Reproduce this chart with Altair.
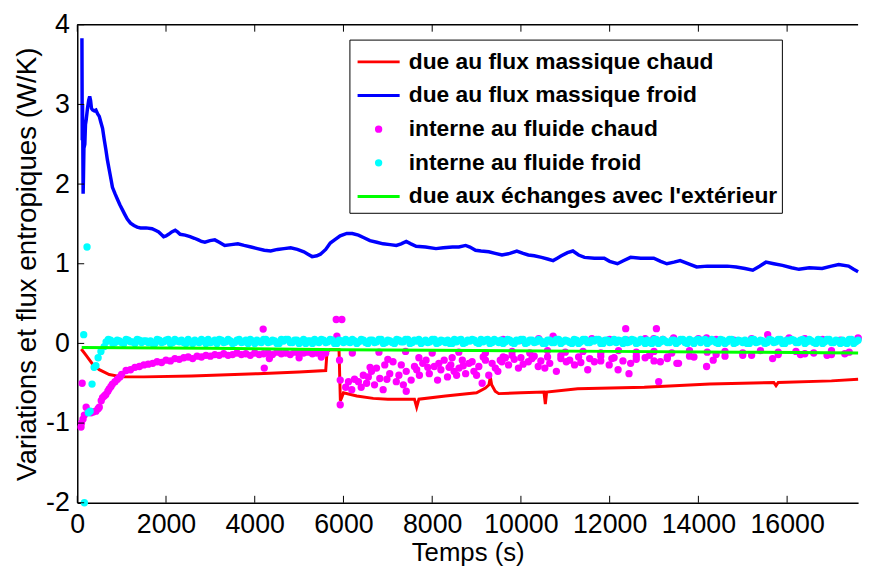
import altair as alt
import pandas as pd

FONT = "Liberation Sans"
names = ["due au flux massique chaud", "due au flux massique froid",
         "interne au fluide chaud", "interne au fluide froid",
         "due aux échanges avec l'extérieur"]
colors = ["#ff0000", "#0000ff", "#ff00ff", "#00ffff", "#00ff00"]
LINE = "M-1.25,0H1.25"
DOT = "M-0.13,0A0.13,0.13,0,1,0,0.13,0A0.13,0.13,0,1,0,-0.13,0Z"
shapes = [LINE, LINE, DOT, DOT, LINE]

x_ticks = [0, 2000, 4000, 6000, 8000, 10000, 12000, 14000, 16000]
y_ticks = [-2, -1, 0, 1, 2, 3, 4]

red_pts = [(90, -0.07), (200, -0.15), (346, -0.26), (496, -0.33), (720, -0.39), (1000, -0.42),
           (1500, -0.42), (2580, -0.41), (4070, -0.38), (5000, -0.36), (5600, -0.34), (5630, -0.10),
           (5700, -0.08), (5900, -0.08), (5930, -0.72), (5960, -0.68), (6000, -0.62), (6300, -0.66),
           (6670, -0.69), (7000, -0.70), (7600, -0.70), (7650, -0.80), (7700, -0.70), (8300, -0.66),
           (9000, -0.62), (9200, -0.56), (9280, -0.52), (9310, -0.42), (9340, -0.52), (9420, -0.60),
           (9500, -0.63), (10000, -0.62), (10520, -0.61), (10550, -0.76), (10580, -0.61), (11280, -0.57),
           (12780, -0.55), (14260, -0.51), (15700, -0.49), (15750, -0.53), (15800, -0.49), (17000, -0.47),
           (17600, -0.45)]

blue_pts = [(105, 3.83), (112, 2.55), (118, 3.0), (124, 2.6), (132, 1.88), (140, 2.1), (150, 2.45),
            (170, 2.5), (185, 2.75), (200, 2.8), (230, 2.95), (257, 3.05), (280, 3.1), (300, 3.05),
            (320, 2.95), (346, 2.93), (380, 2.92), (420, 2.93), (460, 2.88), (496, 2.85), (530, 2.78),
            (570, 2.70), (610, 2.55), (645, 2.43), (680, 2.30), (720, 2.18), (760, 2.06), (793, 1.96),
            (850, 1.88), (905, 1.81), (960, 1.74), (1016, 1.68), (1070, 1.62), (1127, 1.56), (1200, 1.51),
            (1277, 1.48), (1350, 1.46), (1426, 1.45), (1550, 1.45), (1685, 1.44), (1760, 1.42),
            (1835, 1.40), (1890, 1.37), (1946, 1.34), (2000, 1.35), (2058, 1.37), (2130, 1.40),
            (2207, 1.42), (2260, 1.40), (2319, 1.37), (2430, 1.36), (2542, 1.34), (2640, 1.32),
            (2728, 1.30), (2800, 1.28), (2877, 1.27), (2990, 1.29), (3100, 1.30), (3200, 1.27),
            (3323, 1.23), (3470, 1.24), (3620, 1.25), (3760, 1.23), (3917, 1.21), (4060, 1.19),
            (4215, 1.17), (4360, 1.16), (4513, 1.18), (4660, 1.19), (4810, 1.20), (4960, 1.18),
            (5108, 1.15), (5200, 1.12), (5294, 1.09), (5400, 1.10), (5480, 1.12), (5600, 1.18),
            (5703, 1.26), (5800, 1.30), (5926, 1.35), (6075, 1.38), (6200, 1.38), (6336, 1.36),
            (6450, 1.33), (6596, 1.29), (6750, 1.27), (6894, 1.25), (7050, 1.24), (7192, 1.23),
            (7300, 1.25), (7415, 1.28), (7520, 1.25), (7638, 1.22), (7850, 1.21), (8085, 1.19),
            (8250, 1.20), (8457, 1.21), (8600, 1.21), (8754, 1.23), (8850, 1.21), (8977, 1.17),
            (9100, 1.16), (9275, 1.15), (9420, 1.13), (9573, 1.11), (9750, 1.13), (9908, 1.16),
            (10050, 1.13), (10167, 1.11), (10300, 1.10), (10465, 1.08), (10600, 1.06), (10725, 1.04),
            (10820, 1.07), (10911, 1.10), (11050, 1.14), (11171, 1.16), (11300, 1.11), (11432, 1.08),
            (11655, 1.07), (11878, 1.07), (12000, 1.03), (12175, 1.00), (12320, 1.04), (12473, 1.08),
            (12700, 1.07), (12994, 1.07), (13150, 1.03), (13291, 1.00), (13450, 1.02), (13589, 1.04),
            (13780, 1.00), (13961, 0.96), (14200, 0.97), (14407, 0.97), (14650, 0.97), (14853, 0.96),
            (15050, 0.94), (15226, 0.92), (15380, 0.97), (15524, 1.02), (15700, 1.00), (15896, 0.98),
            (16100, 0.95), (16268, 0.93), (16500, 0.95), (16789, 0.94), (17000, 0.97), (17162, 0.99),
            (17385, 0.97), (17500, 0.93), (17600, 0.90)]

green_pts = [(100, -0.05), (3000, -0.06), (6000, -0.08), (9000, -0.09), (12000, -0.10),
             (15000, -0.11), (17600, -0.12)]

magenta_pts = [
    (85, -1.05), (95, -1.00), (110, -0.50), (130, -0.95), (160, -0.90), (200, -0.80), (250, -0.85),
    (310, -0.87), (360, -0.86), (420, -0.85), (470, -0.82), (496, -0.80), (540, -0.72), (570, -0.68),
    (610, -0.66), (645, -0.64), (690, -0.60), (720, -0.57), (760, -0.54), (793, -0.51), (850, -0.48),
    (905, -0.45), (960, -0.42),
    (1000, -0.39), (1100, -0.34), (1200, -0.33), (1300, -0.30), (1400, -0.29), (1500, -0.27),
    (1600, -0.26), (1700, -0.25), (1800, -0.23), (1900, -0.24), (2000, -0.21), (2100, -0.22),
    (2200, -0.19), (2300, -0.20), (2400, -0.18), (2500, -0.17), (2600, -0.19), (2700, -0.16),
    (2800, -0.17), (2900, -0.15), (3000, -0.16), (3100, -0.14), (3200, -0.15), (3300, -0.13),
    (3400, -0.15), (3500, -0.14), (3600, -0.12), (3700, -0.14), (3800, -0.13), (3900, -0.15),
    (4000, -0.12), (4100, -0.14), (4200, -0.13), (4300, -0.12), (4400, -0.14), (4500, -0.11),
    (4600, -0.13), (4700, -0.12), (4800, -0.14), (4900, -0.11), (5000, -0.13), (5100, -0.12),
    (5200, -0.11), (5300, -0.13), (5400, -0.12), (5500, -0.11), (5600, -0.12),
    (4190, 0.18), (4215, -0.31), (4330, -0.19), (5000, -0.18), (5500, -0.17),
    (5837, 0.30), (5964, 0.30), (5852, 0.09), (5912, -0.21), (5927, -0.46), (5927, -0.77),
    (6113, -0.48), (6187, -0.58), (6336, -0.48), (6447, -0.40), (6522, -0.50), (6633, -0.35),
    (6745, -0.31), (6819, -0.44), (6894, -0.58), (6931, -0.27), (7043, -0.38), (7117, -0.23),
    (7191, -0.48), (7303, -0.27), (7415, -0.35), (7415, -0.60), (7526, -0.46), (7601, -0.29),
    (7712, -0.40), (7787, -0.25), (7861, -0.21), (7935, -0.38), (8047, -0.29), (8121, -0.46),
    (8196, -0.33), (8270, -0.21), (8345, -0.42), (8419, -0.27), (8493, -0.35), (8605, -0.31),
    (8679, -0.21), (8754, -0.38), (8828, -0.25), (8940, -0.35), (9051, -0.29), (9126, -0.50),
    (9200, -0.21), (9275, -0.40), (9423, -0.31), (9535, -0.21),
    (6050, -0.55), (6250, -0.45), (6400, -0.55), (6560, -0.42), (6700, -0.52), (6980, -0.45),
    (7250, -0.40), (7350, -0.52), (7650, -0.33), (7900, -0.30), (8150, -0.25), (8380, -0.30),
    (8550, -0.40), (8700, -0.28), (8900, -0.23), (9000, -0.40), (9350, -0.25), (9480, -0.35),
    (6600, -0.30), (7000, -0.20), (7700, -0.18), (8450, -0.18), (9150, -0.17),
    (6200, -0.12), (6800, -0.11), (7400, -0.10), (8000, -0.12), (8600, -0.11), (9200, -0.12),
    (9572, -0.23), (9721, -0.27), (9944, -0.31), (10167, -0.23), (10390, -0.29), (10539, -0.31),
    (10725, 0.09), (10799, -0.35), (11022, -0.23), (11209, -0.27), (11506, -0.33), (11655, -0.23),
    (11878, 0.03), (11990, -0.27), (12190, -0.33), (12362, 0.185), (12436, -0.38), (12473, -0.25),
    (12994, 0.06), (13054, 0.185), (13106, -0.48), (13143, -0.23), (13441, 0.07), (13515, -0.25),
    (9650, -0.18), (9850, -0.20), (10050, -0.26), (10250, -0.19), (10450, -0.22), (10650, -0.25),
    (10900, -0.19), (11100, -0.21), (11350, -0.24), (11550, -0.19), (11800, -0.22), (12050, -0.19),
    (12300, -0.22), (12600, -0.20), (12800, -0.18), (13000, -0.22), (13300, -0.19),
    (9600, -0.17), (9800, -0.15), (10000, -0.18), (10300, -0.16), (10600, -0.17), (10900, -0.15),
    (11300, -0.17), (11800, -0.16), (12100, -0.18), (12600, -0.16), (12900, -0.15), (13300, -0.17),
    (13553, -0.25), (14185, 0.07), (14334, -0.21), (14185, -0.29), (15562, 0.11), (15673, -0.19),
    (16045, 0.07), (17600, 0.07), (13900, -0.17), (14600, -0.16), (15200, -0.15), (16300, -0.14),
    (16900, -0.15), (17300, -0.13), (13800, -0.16), (14400, -0.14), (15000, -0.15), (15800, -0.14),
    (16400, -0.13), (17000, -0.14),
    (9600, 0.05), (9800, -0.10), (10000, 0.04), (10200, -0.12), (10400, 0.06), (10600, -0.09),
    (10800, 0.05), (11000, -0.11), (11200, 0.04), (11400, -0.10), (11600, 0.06), (11800, -0.12),
    (12000, 0.05), (12200, -0.09), (12400, 0.04), (12600, -0.11), (12800, 0.06), (13000, -0.10),
    (13200, 0.05), (13400, -0.12), (13600, 0.04), (13800, -0.09), (14000, 0.06), (14200, -0.11),
    (14400, 0.05), (14600, -0.10), (14800, 0.04), (15000, -0.12), (15200, 0.06), (15400, -0.09),
    (15600, 0.05), (15800, -0.11), (16000, 0.04), (16200, -0.10), (16400, 0.06), (16600, -0.12),
    (16800, 0.05), (17000, -0.09), (17200, 0.04), (17400, -0.11), (17600, 0.06)]

cyan_early = [(145, 0.11), (160, -2.0), (220, 1.21), (250, -0.87), (290, -0.85), (333, -0.51),
              (380, -0.30), (420, -0.28), (470, -0.18), (533, -0.10), (607, -0.04)]

cyan_band_t = [650, 750, 850, 950, 1050, 1150, 1250, 1350, 1450, 1550,
               1650, 1750, 1850, 1950, 2050, 2150, 2250, 2350, 2450, 2550,
               2650, 2750, 2850, 2950, 3050, 3150, 3250, 3350, 3450, 3550,
               3650, 3750, 3850, 3950, 4050, 4150, 4250, 4350, 4450, 4550,
               4650, 4750, 4850, 4950, 5050, 5150, 5250, 5350, 5450, 5550,
               5650, 5750, 5850, 5950, 6050, 6150, 6250, 6350, 6450, 6550,
               6650, 6750, 6850, 6950, 7050, 7150, 7250, 7350, 7450, 7550,
               7650, 7750, 7850, 7950, 8050, 8150, 8250, 8350, 8450, 8550,
               8650, 8750, 8850, 8950, 9050, 9150, 9250, 9350, 9450, 9550,
               9650, 9750, 9850, 9950, 10050, 10150, 10250, 10350, 10450, 10550,
               10650, 10750, 10850, 10950, 11050, 11150, 11250, 11350, 11450, 11550,
               11650, 11750, 11850, 11950, 12050, 12150, 12250, 12350, 12450, 12550,
               12650, 12750, 12850, 12950, 13050, 13150, 13250, 13350, 13450, 13550,
               13650, 13750, 13850, 13950, 14050, 14150, 14250, 14350, 14450, 14550,
               14650, 14750, 14850, 14950, 15050, 15150, 15250, 15350, 15450, 15550,
               15650, 15750, 15850, 15950, 16050, 16150, 16250, 16350, 16450, 16550,
               16650, 16750, 16850, 16950, 17050, 17150, 17250, 17350, 17450, 17550]
cyan_band_v = [0.02, 0.04, 0.01, 0.03, 0.00, 0.04, 0.02, 0.05, 0.01, 0.03,
               0.03, 0.00, 0.04, 0.02, 0.05, 0.01, 0.03, 0.04, 0.00, 0.02,
               0.04, 0.01, 0.03, 0.05, 0.02, 0.00, 0.04, 0.02, 0.03, 0.01,
               0.05, 0.02, 0.00, 0.03, 0.04, 0.01, 0.05, 0.02, 0.03, 0.00,
               0.03, 0.05, 0.01, 0.04, 0.02, 0.00, 0.03, 0.05, 0.01, 0.04,
               0.02, 0.04, 0.00, 0.03, 0.05, 0.01, 0.03, 0.02, 0.04, 0.00,
               0.04, 0.02, 0.05, 0.01, 0.03, 0.00, 0.04, 0.02, 0.05, 0.01,
               0.03, 0.00, 0.04, 0.02, 0.05, 0.01, 0.03, 0.04, 0.00, 0.02,
               0.05, 0.01, 0.03, 0.04, 0.00, 0.02, 0.05, 0.01, 0.03, 0.04,
               0.02, 0.04, 0.00, 0.03, 0.05, 0.01, 0.04, 0.02, 0.03, 0.00,
               0.04, 0.01, 0.05, 0.02, 0.03, 0.00, 0.04, 0.02, 0.05, 0.01,
               0.03, 0.05, 0.00, 0.04, 0.02, 0.01, 0.03, 0.05, 0.02, 0.04,
               0.01, 0.03, 0.04, 0.00, 0.05, 0.02, 0.03, 0.01, 0.04, 0.02,
               0.05, 0.00, 0.03, 0.04, 0.01, 0.05, 0.02, 0.03, 0.00, 0.04,
               0.02, 0.05, 0.01, 0.03, 0.04, 0.00, 0.05, 0.02, 0.03, 0.01,
               0.04, 0.02, 0.05, 0.00, 0.03, 0.04, 0.01, 0.05, 0.02, 0.03,
               0.00, 0.04, 0.02, 0.05, 0.01, 0.03, 0.04, 0.00, 0.05, 0.02]
cyan_band2_t = [700, 800, 900, 1000, 1100, 1200, 1300, 1400, 1500, 1600,
                1700, 1800, 1900, 2000, 2100, 2200, 2300, 2400, 2500, 2600,
                2700, 2800, 2900, 3000, 3100, 3200, 3300, 3400, 3500, 3600,
                3700, 3800, 3900, 4000, 4100, 4200, 4300, 4400, 4500, 4600,
                4700, 4800, 4900, 5000, 5100, 5200, 5300, 5400, 5500, 5600,
                5700, 5800, 5900, 6000, 6100, 6200, 6300, 6400, 6500, 6600,
                6700, 6800, 6900, 7000, 7100, 7200, 7300, 7400, 7500, 7600,
                7700, 7800, 7900, 8000, 8100, 8200, 8300, 8400, 8500, 8600,
                8700, 8800, 8900, 9000, 9100, 9200, 9300, 9400, 9500, 9600,
                9700, 9800, 9900, 10000, 10100, 10200, 10300, 10400, 10500, 10600,
                10700, 10800, 10900, 11000, 11100, 11200, 11300, 11400, 11500, 11600,
                11700, 11800, 11900, 12000, 12100, 12200, 12300, 12400, 12500, 12600,
                12700, 12800, 12900, 13000, 13100, 13200, 13300, 13400, 13500, 13600,
                13700, 13800, 13900, 14000, 14100, 14200, 14300, 14400, 14500, 14600,
                14700, 14800, 14900, 15000, 15100, 15200, 15300, 15400, 15500, 15600,
                15700, 15800, 15900, 16000, 16100, 16200, 16300, 16400, 16500, 16600,
                16700, 16800, 16900, 17000, 17100, 17200, 17300, 17400, 17500, 17600]
cyan_band2_v = [0.05, 0.00, 0.04, 0.01, 0.05, 0.02, 0.00, 0.04, 0.03, 0.01,
                0.00, 0.05, 0.01, 0.04, 0.00, 0.05, 0.02, 0.01, 0.05, 0.00,
                0.02, 0.05, 0.00, 0.01, 0.04, 0.05, 0.01, 0.05, 0.00, 0.04,
                0.01, 0.04, 0.05, 0.00, 0.02, 0.05, 0.01, 0.04, 0.00, 0.05,
                0.05, 0.01, 0.04, 0.00, 0.05, 0.03, 0.00, 0.02, 0.05, 0.01,
                0.05, 0.00, 0.04, 0.01, 0.02, 0.05, 0.00, 0.05, 0.01, 0.04,
                0.01, 0.05, 0.00, 0.04, 0.01, 0.05, 0.02, 0.05, 0.00, 0.04,
                0.05, 0.02, 0.01, 0.05, 0.00, 0.04, 0.01, 0.00, 0.05, 0.04,
                0.00, 0.04, 0.05, 0.01, 0.05, 0.04, 0.00, 0.05, 0.01, 0.00,
                0.05, 0.01, 0.04, 0.05, 0.00, 0.04, 0.01, 0.05, 0.00, 0.04,
                0.01, 0.05, 0.00, 0.04, 0.01, 0.05, 0.00, 0.05, 0.01, 0.04,
                0.05, 0.00, 0.04, 0.01, 0.05, 0.04, 0.00, 0.01, 0.05, 0.00,
                0.05, 0.00, 0.01, 0.05, 0.00, 0.05, 0.01, 0.04, 0.00, 0.05,
                0.01, 0.05, 0.00, 0.05, 0.04, 0.00, 0.05, 0.01, 0.05, 0.00,
                0.05, 0.00, 0.04, 0.01, 0.00, 0.05, 0.01, 0.04, 0.00, 0.05,
                0.01, 0.05, 0.00, 0.04, 0.05, 0.01, 0.04, 0.00, 0.05, 0.01,
                0.05, 0.00, 0.05, 0.01, 0.04, 0.00, 0.01, 0.05, 0.00, 0.04]

W, H = 789, 483
X_MAX = 17600

xs = alt.Scale(domain=[0, X_MAX], nice=False, zero=False)
ys = alt.Scale(domain=[-2, 4], nice=False, zero=False)

x_axis = alt.Axis(values=x_ticks, title="Temps (s)", ticks=False, grid=False, labelFlush=False,
                  labelOverlap=False, labelFont=FONT, labelFontSize=27, labelColor="black",
                  labelPadding=9, labelExpr="'' + datum.value", titleFont=FONT, titleFontSize=26,
                  titleFontWeight="normal", titleColor="black", titlePadding=2,
                  domainColor="black", domainWidth=1.5)
y_axis = alt.Axis(values=y_ticks, title="Variations et flux entropiques (W/K)", ticks=False,
                  grid=False, labelFlush=False, labelOverlap=False, labelFont=FONT,
                  labelFontSize=27, labelColor="black", labelPadding=8,
                  labelExpr="'' + datum.value", titleFont=FONT, titleFontSize=28,
                  titleFontWeight="normal", titleColor="black", titlePadding=4,
                  domainColor="black", domainWidth=1.5)

X = alt.X("t:Q", scale=xs, axis=x_axis)
Y = alt.Y("v:Q", scale=ys, axis=y_axis)

red_df = pd.DataFrame(red_pts, columns=["t", "v"])
blue_df = pd.DataFrame(blue_pts, columns=["t", "v"])
green_df = pd.DataFrame(green_pts, columns=["t", "v"])
mag_df = pd.DataFrame(magenta_pts, columns=["t", "v"])
mag_df["series"] = names[2]
cy_df = pd.concat([pd.DataFrame(cyan_early, columns=["t", "v"]),
                   pd.DataFrame({"t": cyan_band_t, "v": cyan_band_v}),
                   pd.DataFrame({"t": cyan_band2_t, "v": cyan_band2_v})], ignore_index=True)
cy_df["series"] = names[3]
pts_df = pd.concat([mag_df, cy_df], ignore_index=True)

leg = alt.Legend(title=None, orient="none", legendX=275, legendY=15, padding=4,
                 symbolOffset=7, labelOffset=12, rowPadding=3, labelFont=FONT,
                 labelFontSize=23, labelFontWeight="bold", labelColor="black", labelLimit=600,
                 symbolSize=1156, symbolStrokeWidth=3, strokeColor="black", fillColor="white",
                 cornerRadius=0)

red = alt.Chart(red_df).mark_line(color=colors[0], strokeWidth=3).encode(x=X, y=Y)
blue = alt.Chart(blue_df).mark_line(color=colors[1], strokeWidth=3.5).encode(x=X, y=Y)
pts = alt.Chart(pts_df).mark_point(size=1156, strokeWidth=3, opacity=1, filled=False).encode(
    x=X, y=Y,
    color=alt.Color("series:N", scale=alt.Scale(domain=names, range=colors), legend=leg),
    fill=alt.Fill("series:N", scale=alt.Scale(domain=names, range=colors), legend=leg),
    shape=alt.Shape("series:N", scale=alt.Scale(domain=names, range=shapes), legend=leg),
)
green = alt.Chart(green_df).mark_line(color=colors[4], strokeWidth=3).encode(x=X, y=Y)

xt_df = pd.DataFrame({"t": x_ticks})
yt_df = pd.DataFrame({"v": y_ticks})
bottom_ticks = alt.Chart(xt_df).mark_rule(color="black", strokeWidth=1).encode(
    x=X, y=alt.value(H), y2=alt.value(H - 7))
top_ticks = alt.Chart(xt_df).mark_rule(color="black", strokeWidth=1).encode(
    x=X, y=alt.value(0), y2=alt.value(7))
left_ticks = alt.Chart(yt_df).mark_rule(color="black", strokeWidth=1).encode(
    y=Y, x=alt.value(0), x2=alt.value(7))
top_frame = alt.Chart(pd.DataFrame({"t": [0]})).mark_rule(color="black", strokeWidth=1.5).encode(
    x=alt.value(0), x2=alt.value(W), y=alt.value(0))

chart = alt.layer(red, blue, pts, green, bottom_ticks, top_ticks, left_ticks, top_frame).properties(
    width=W, height=H, padding={"left": 5, "top": 0, "right": 0, "bottom": 0}
).configure_view(stroke="transparent")

chart.save("out.html", embed_options={"renderer": "svg", "actions": False})
